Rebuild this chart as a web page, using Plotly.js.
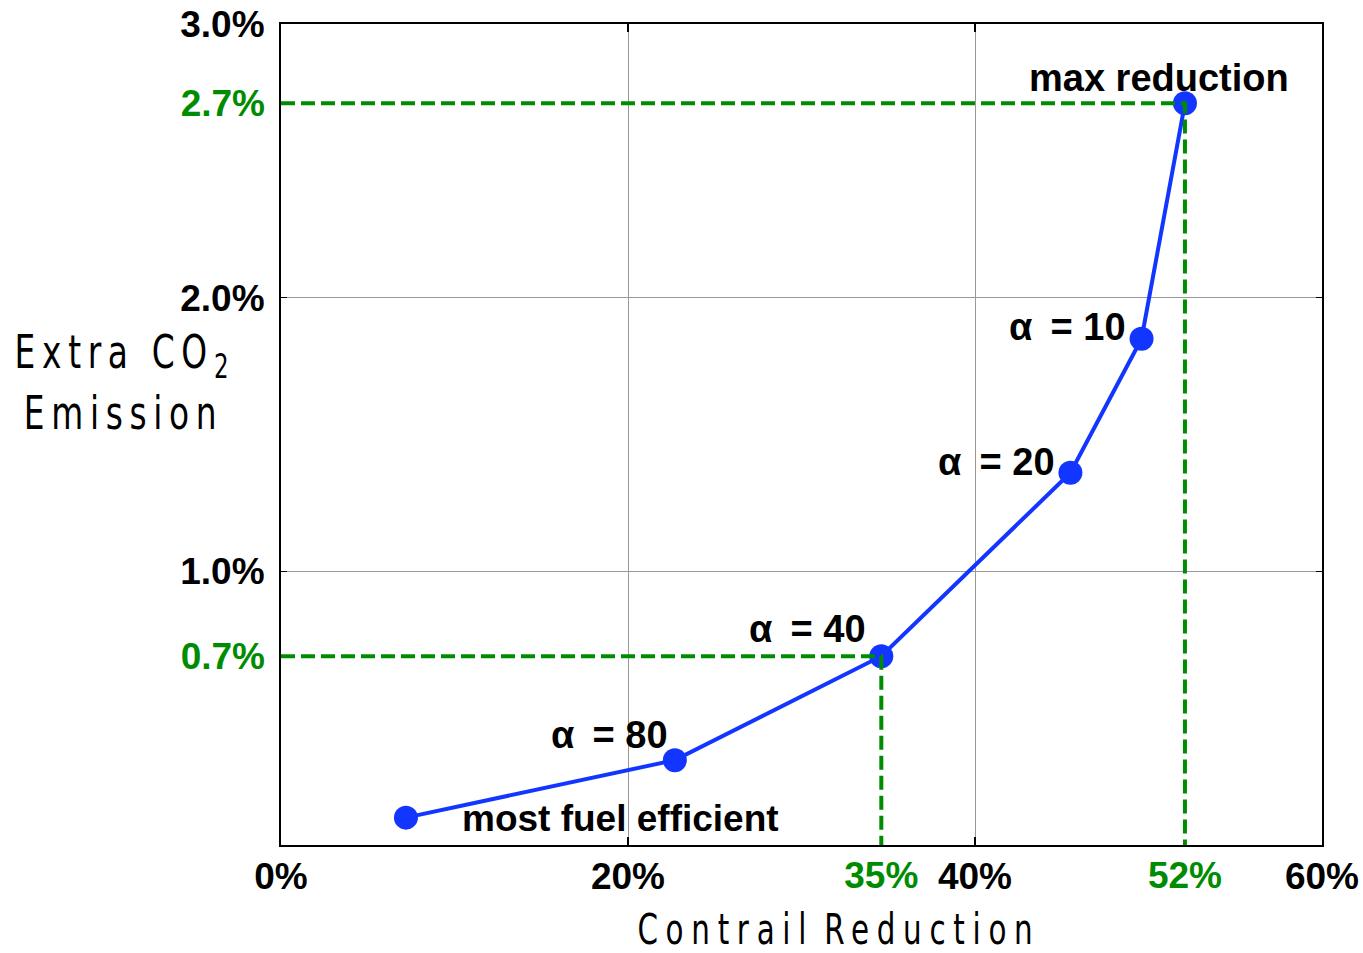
<!DOCTYPE html>
<html>
<head>
<meta charset="utf-8">
<script src="https://cdn.plot.ly/plotly-3.0.1.min.js"></script>
<style>
html, body { margin: 0; padding: 0; background: #fff; }
#chart { width: 1363px; height: 953px; }
.annotation[data-index="0"] text {
  letter-spacing: 11px; word-spacing: -10px;
  transform-box: fill-box; transform-origin: center; transform: scaleX(0.7);
}
.annotation[data-index="1"] text, .annotation[data-index="2"] text {
  letter-spacing: 9.5px; transform-box: fill-box; transform-origin: center; transform: scaleX(0.7);
}
</style>
</head>
<body>
<div id="chart"></div>
<script>
// Data
const contrailReduction = [7.2, 22.7, 34.6, 45.5, 49.6, 52.1];   // % (x)
const extraCO2 = [0.10, 0.31, 0.69, 1.36, 1.85, 2.71];           // % (y)
const pointLabels = ["most fuel efficient", "α = 80", "α = 40", "α = 20", "α = 10", "max reduction"];

const xTickVals = [0, 20, 40, 60];
const xTickText = ["0%", "20%", "40%", "60%"];
const yTickVals = [1, 2, 3];
const yTickText = ["1.0%", "2.0%", "3.0%"];

const highlightIdx = [2, 5];               // points with green guide lines
const highlightXText = ["35%", "52%"];
const highlightYText = ["0.7%", "2.7%"];

const BLUE = "#1236ff";
const GREEN = "rgb(0,140,0)";
const BOLD = "Liberation Sans, Arial, sans-serif";
const NARROW = "'DejaVu Sans', sans-serif";

const traces = [{
  x: contrailReduction, y: extraCO2, type: "scatter", mode: "lines+markers",
  line: { color: BLUE, width: 4 },
  marker: { color: BLUE, size: 24 },
  hoverinfo: "skip", showlegend: false
}];

highlightIdx.forEach(i => {
  const px = contrailReduction[i], py = extraCO2[i];
  traces.push({
    x: [0, px, px], y: [py, py, 0], type: "scatter", mode: "lines",
    line: { color: GREEN, width: 4, dash: "14px,6px" },
    hoverinfo: "skip", showlegend: false
  });
});

const hx = highlightIdx.map(i => contrailReduction[i]);
const hy = highlightIdx.map(i => extraCO2[i]);

const annotations = [
  { text: "Contrail Reduction", xref: "paper", yref: "paper", x: 0.536, y: -0.103,
    xanchor: "center", yanchor: "middle", showarrow: false,
    font: { family: NARROW, size: 42, color: "#000" } },
  { text: "Extra CO<sub>2</sub>", xref: "paper", yref: "paper", x: -0.150, y: 0.597,
    xanchor: "center", yanchor: "middle", showarrow: false,
    font: { family: NARROW, size: 47, color: "#000" } },
  { text: "Emission", xref: "paper", yref: "paper", x: -0.151, y: 0.527,
    xanchor: "center", yanchor: "middle", showarrow: false,
    font: { family: NARROW, size: 47, color: "#000" } }
];

// label offsets (pixels) relative to each point
const labelAnchor = ["left", "right", "right", "right", "right", "center"];
const labelDX = [54, -5, -13, -13, -14, -26];
const labelDY = [-1, 25, 27, 11, 12, 25];

pointLabels.forEach((t, i) => {
  const txt = t.startsWith("α") ? "α\u2009 " + t.slice(2) : t;
  annotations.push({
    text: txt, x: contrailReduction[i], y: extraCO2[i], xref: "x", yref: "y",
    xanchor: labelAnchor[i], yanchor: "middle", xshift: labelDX[i], yshift: labelDY[i],
    showarrow: false,
    font: { family: BOLD, size: i === 0 ? 37 : 38, color: "#000", weight: "bold" }
  });
});

const layout = {
  width: 1363, height: 953,
  margin: { l: 281, r: 41, t: 24, b: 108 },
  paper_bgcolor: "#fff", plot_bgcolor: "#fff",
  showlegend: false,
  xaxis: {
    range: [0, 60], tickvals: xTickVals, ticktext: xTickText,
    ticks: "inside", ticklen: 8, tickwidth: 1.5, tickcolor: "#000",
    showline: true, linecolor: "#000", linewidth: 2, mirror: "ticks",
    showgrid: true, gridcolor: "#999", gridwidth: 1, zeroline: false,
    tickfont: { family: BOLD, size: 37, color: "#000", weight: "bold" },
    ticklabelstandoff: -2
  },
  yaxis: {
    range: [0, 3], tickvals: yTickVals, ticktext: yTickText,
    ticks: "inside", ticklen: 6, tickwidth: 1.5, tickcolor: "#000",
    showline: true, linecolor: "#000", linewidth: 2, mirror: "ticks",
    showgrid: true, gridcolor: "#999", gridwidth: 1, zeroline: false,
    tickfont: { family: BOLD, size: 37, color: "#000", weight: "bold" },
    ticklabelstandoff: 7
  },
  xaxis2: {
    overlaying: "x", anchor: "y", side: "bottom", range: [0, 60],
    tickvals: hx, ticktext: highlightXText, ticks: "", showgrid: false,
    zeroline: false, showline: false,
    tickfont: { family: BOLD, size: 37, color: GREEN, weight: "bold" },
    ticklabelstandoff: 5
  },
  yaxis2: {
    overlaying: "y", anchor: "x", side: "left", range: [0, 3],
    tickvals: hy, ticktext: highlightYText, ticks: "", showgrid: false,
    zeroline: false, showline: false,
    tickfont: { family: BOLD, size: 37, color: GREEN, weight: "bold" },
    ticklabelstandoff: 15
  },
  annotations: annotations
};

// trivial empty trace on the overlay axes so their tick labels render
traces.push({ x: [null], y: [null], xaxis: "x2", yaxis: "y2", type: "scatter",
  mode: "markers", hoverinfo: "skip", showlegend: false });

Plotly.newPlot("chart", traces, layout, { displayModeBar: false, staticPlot: true });
</script>
</body>
</html>
